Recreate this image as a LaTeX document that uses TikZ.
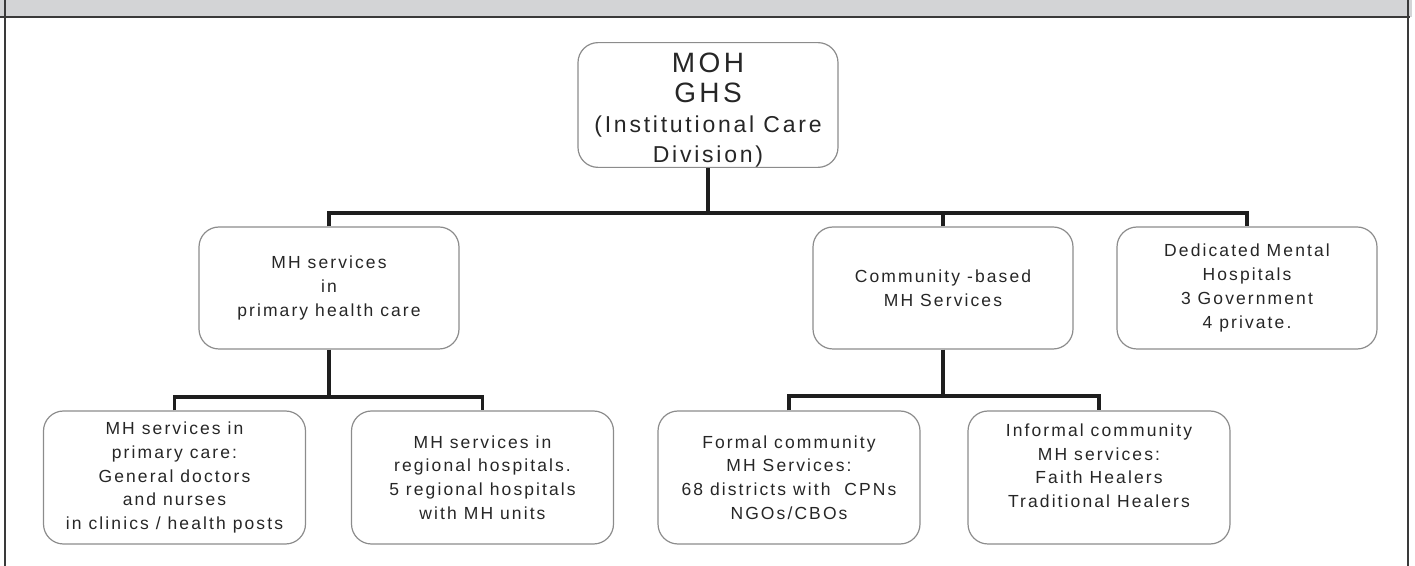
\documentclass[tikz,border=0pt]{standalone}
\usepackage{fontspec}
\setmainfont[LetterSpace=12]{Liberation Sans}
\usetikzlibrary{positioning}
\definecolor{cline}{HTML}{1E1E1E}
\definecolor{cbox}{HTML}{8C8C8C}
\definecolor{chead}{HTML}{D3D4D6}
\definecolor{cframe}{HTML}{3A3A3A}
\definecolor{ctext}{HTML}{262626}
\tikzset{
  unit/.style={draw=cbox, line width=0.6pt, rounded corners=10pt, align=center, inner sep=0pt,
    text=ctext, minimum width=131pt, minimum height=66.5pt, font=\fontsize{8.75}{11.9}\selectfont},
  midunit/.style={unit, minimum width=130pt, minimum height=61pt},
  link/.style={draw=cline, line width=1.8pt},
}
\newcommand{\bigline}{\fontsize{14}{15.5}\selectfont}

\begin{document}
\begin{tikzpicture}[x=0.5pt, y=-0.5pt]
  \useasboundingbox (0,0) rectangle (1415,566);
  % header band and frame
  \fill[chead] (0,0) rectangle (1412,17);
  \draw[cframe, line width=0.8pt] (0,17) -- (1410,17);
  \draw[cframe, line width=0.7pt] (5,0) -- (5,566);
  \draw[cframe, line width=0.7pt] (1408,0) -- (1408,566);

  \node[midunit, minimum height=62pt, font=\fontsize{11.5}{15}\selectfont] (moh) at (708,105)
    {\bigline\rule{0pt}{15pt}MOH\\\bigline GHS\\(Institutional Care\\Division)};

  \node[midunit] (phc) at (329,288) {MH services\\in\\primary health care};
  \node[midunit] (cmh) at (943,288) {Community -based\\MH Services};
  \node[midunit] (dmh) at (1247,288) {Dedicated Mental\\Hospitals\\3 Government\\4 private.};

  \node[unit] (pc) at (174.5,477.5) {MH services in\\primary care:\\General doctors\\and nurses\\in clinics / health posts};
  \node[unit] (rh) at (482.5,477.5) {MH services in\\regional hospitals.\\5 regional hospitals\\with MH units};
  \node[unit] (fc) at (789,477.5) {Formal community\\MH Services:\\68 districts with\ \ CPNs\\NGOs/CBOs};
  \node[unit] (ic) at (1099,477.5) {Informal community\\MH services:\\Faith Healers\\Traditional Healers\\ \mbox{}};

  % connectors
  \coordinate (bus) at (0,213);
  \coordinate (lbus) at (0,397);
  \coordinate (rbus) at (0,396);
  \draw[link] (moh.south) -- (moh.south |- bus);
  \draw[link] (phc.north) -- (phc.north |- bus) -- (dmh.north |- bus) -- (dmh.north);
  \draw[link] (cmh.north) -- (cmh.north |- bus);
  \draw[link] (phc.south) -- (phc.south |- lbus);
  \draw[link] (pc.north) -- (pc.north |- lbus) -- (rh.north |- lbus) -- (rh.north);
  \draw[link] (cmh.south) -- (cmh.south |- rbus);
  \draw[link] (fc.north) -- (fc.north |- rbus) -- (ic.north |- rbus) -- (ic.north);
\end{tikzpicture}
\end{document}
